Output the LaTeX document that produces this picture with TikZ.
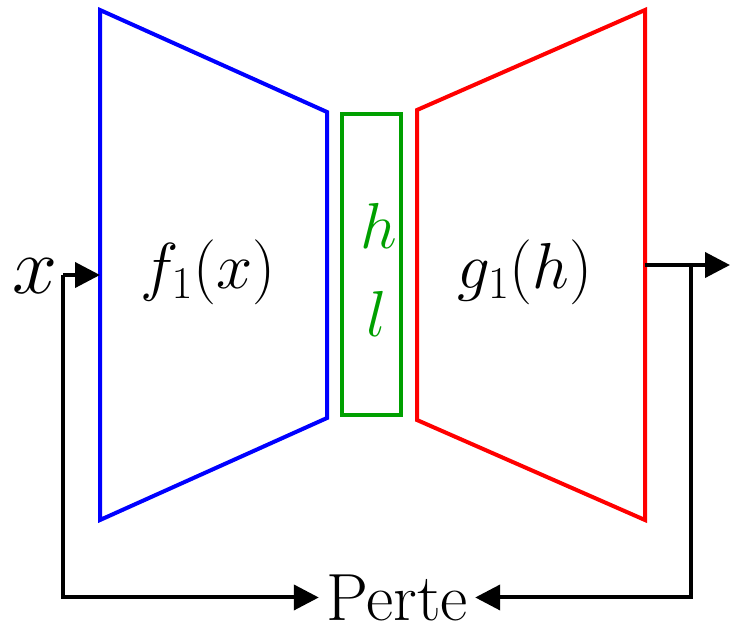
\RequirePackage{fix-cm}
\documentclass[tikz,border=0pt]{standalone}
\usetikzlibrary{arrows.meta,positioning}
\definecolor{encblue}{HTML}{0000FF}
\definecolor{codegreen}{HTML}{00A000}
\definecolor{decred}{HTML}{FF0000}
\tikzset{
  net/.style={line width=.08cm,line join=miter},
  flow/.style={line width=.08cm,-{Triangle[length=.5cm,width=.5cm]}},
  big/.style={font=\fontsize{37}{40}\selectfont,inner sep=0pt},
}

\begin{document}
\begin{tikzpicture}[x=.02cm,y=-.02cm]
\useasboundingbox (0,0) rectangle (730,630);
% encoder
\draw[net,encblue] (100,10)--(327,112)--(327,418)--(100,520)--cycle;
\node[big] (enc) at (208,272){$f_1(x)$};
% code
\draw[net,codegreen,line width=.065cm] (342,114) rectangle (401,415);
\node[big,codegreen] (h) at (379,226){$h$};
\node[big,codegreen] (l) at (377,314){$l$};
% decoder
\draw[net,decred] (645,10)--(417,110)--(417,420)--(645,520)--cycle;
\node[big] (dec) at (525,272){$g_1(h)$};
% input, output, loss
\node[font=\fontsize{46}{50}\selectfont,inner sep=0pt] (inp) at (35,276){$x$};
\node[font=\fontsize{38}{40}\selectfont,inner xsep=4pt,inner ysep=0pt,anchor=base] (loss) at (397,620){Perte};
\coordinate (xin) at (63,275);
\coordinate (encin) at (100,275);
\coordinate (decout) at (645,265);
\coordinate (out) at (730,265);
\coordinate (tap) at (691,265);
\draw[flow] (xin)--(encin);
\draw[flow] (xin) |- (loss.west);
\draw[flow] (decout)--(out);
\draw[flow] (tap) |- (loss.east);
\end{tikzpicture}
\end{document}
